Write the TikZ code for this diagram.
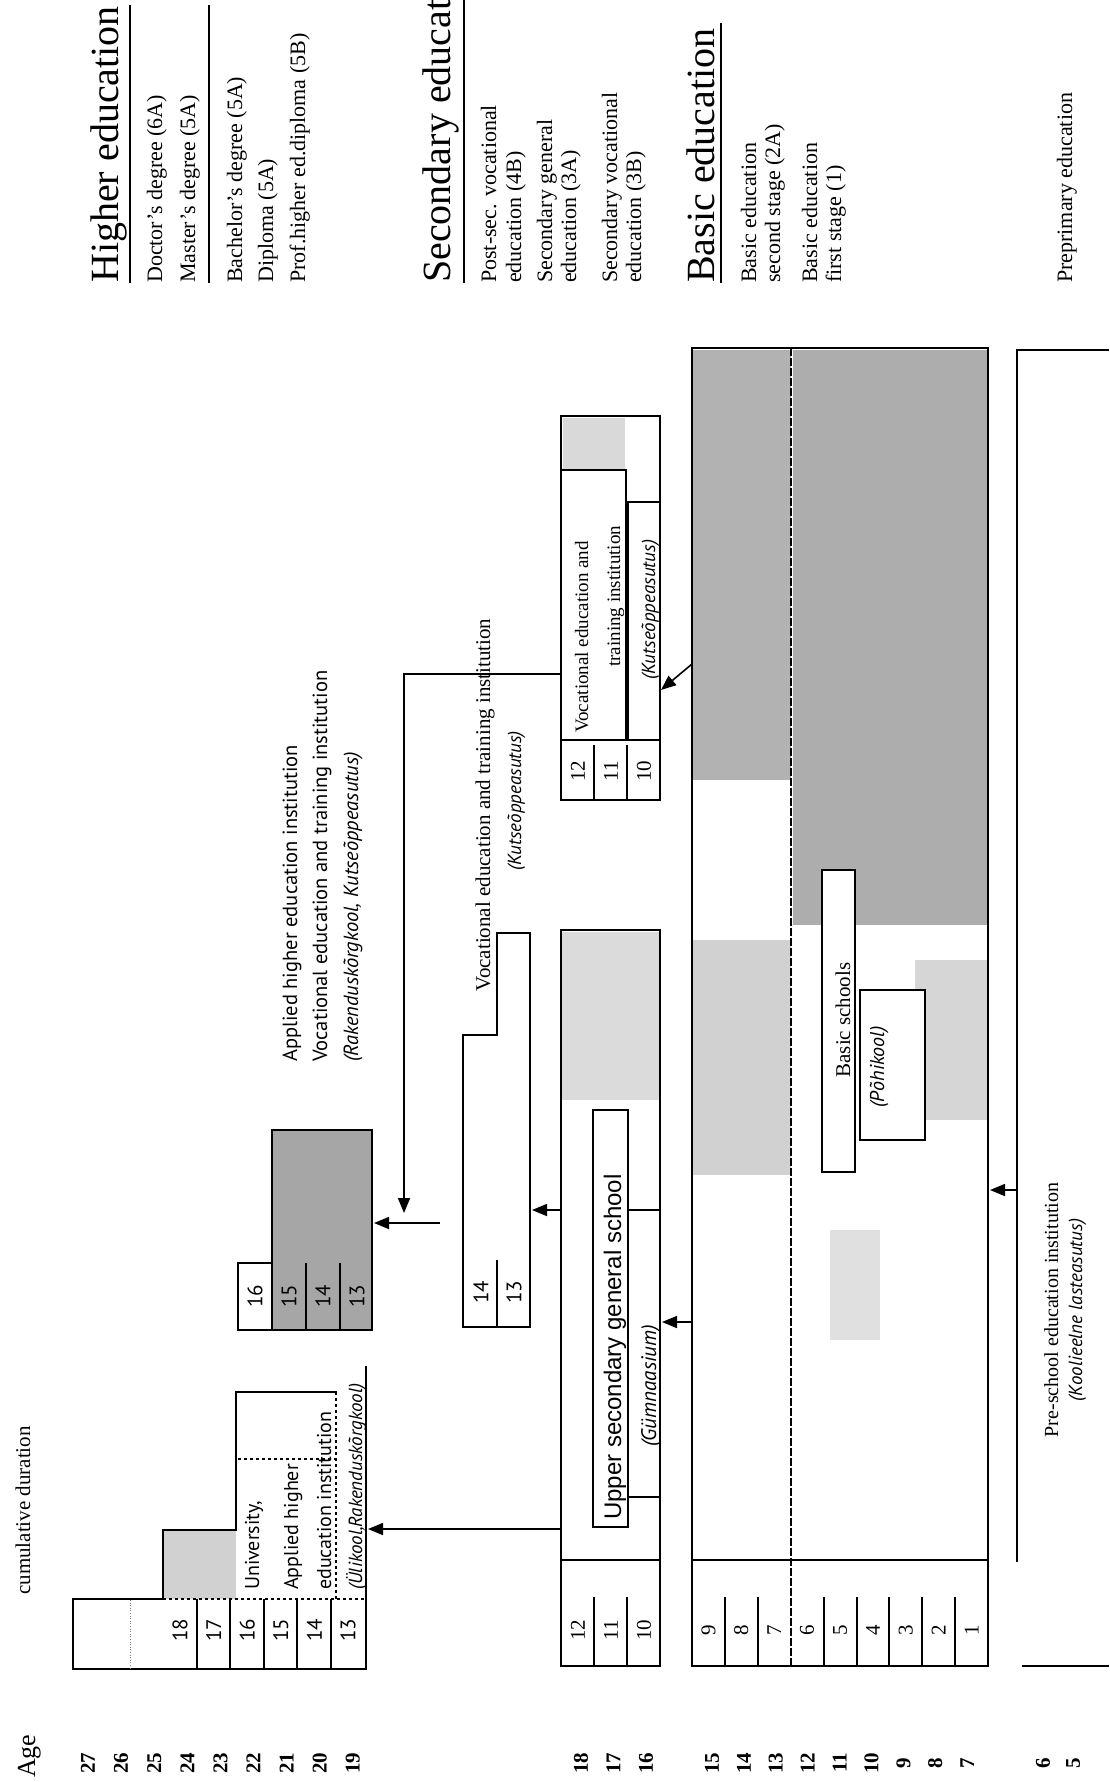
\documentclass[tikz,border=0pt]{standalone}
\usepackage{fontspec}
\setmainfont{Liberation Serif}
\newfontfamily\gillfont{PT Sans}
\newfontfamily\arialfont{Liberation Sans}
\usetikzlibrary{arrows.meta}

\begin{document}
\begin{tikzpicture}[x=1pt, y=-1pt,
    frame/.style={draw, line width=2.4pt},
    thinline/.style={draw, line width=1.1pt},
    celldiv/.style={draw, line width=2pt},
    arrow/.style={-{Triangle[length=15pt, width=12pt]}, line width=1.6pt},
    up/.style={rotate=90, inner sep=0pt, anchor=base west},
    upmid/.style={rotate=90, inner sep=0pt, anchor=base},
    serif/.style={font=\fontsize{#1}{#1}\selectfont},
    gill/.style={font=\gillfont\fontsize{#1}{#1}\selectfont},
    gillit/.style={font=\gillfont\itshape\fontsize{#1}{#1}\selectfont},
    heading/.style={up, serif=40},
    legend/.style={up, serif=22},
    num/.style={rotate=90, inner sep=0pt, serif=21},
    gnum/.style={rotate=90, inner sep=0pt, gill=21},
    age/.style={rotate=90, inner sep=0pt, font=\fontsize{21}{24}\selectfont\bfseries}
]
\fill[white] (0,0) rectangle (1109,1782);
\useasboundingbox (0,0) rectangle (1109,1782);

% legend
\node[heading] (hHigher) at (118,283) {Higher education};
\draw[line width=2pt] (130,283) -- (130,5);
\node[legend] (lDoctor) at (162,283) {Doctor's degree (6A)};
\node[legend] (lMaster) at (195,283) {Master's degree (5A)};
\draw[line width=2pt] (209,283) -- (209,5);
\node[legend] (lBachelor) at (242,283) {Bachelor's degree (5A)};
\node[legend] (lDiploma) at (273,283) {Diploma (5A)};
\node[legend] (lProf) at (305,283) {Prof.higher ed.diploma (5B)};

\node[heading] (hSecondary) at (450,283) {Secondary education};
\draw[line width=2pt] (464,283) -- (464,0);
\node[legend] (lPostA) at (496,283) {Post-sec. vocational};
\node[legend] (lPostB) at (521,283) {education (4B)};
\node[legend] (lSecGenA) at (552,283) {Secondary general};
\node[legend] (lSecGenB) at (576,283) {education (3A)};
\node[legend] (lSecVocA) at (617,283) {Secondary vocational};
\node[legend] (lSecVocB) at (641,283) {education (3B)};

\node[heading] (hBasic) at (714,283) {Basic education};
\draw[line width=2pt] (721,283) -- (721,23);
\node[legend] (lBasic2A) at (756,283) {Basic education};
\node[legend] (lBasic2B) at (780,283) {second stage (2A)};
\node[legend] (lBasic1A) at (817,283) {Basic education};
\node[legend] (lBasic1B) at (841,283) {first stage (1)};
\node[legend] (lPre) at (1072,283) {Preprimary education};

% age scale
\node[up, serif=26] (ageTitle) at (35,1778) {Age};
\node[up, serif=21] (cumTitle) at (30,1595) {cumulative duration};
\foreach \a [count=\k from 0] in {27,26,...,19}
  \node[age] (age\a) at ({88+33.1*\k},1763) {\a};
\foreach \a [count=\k from 0] in {18,17,16}
  \node[age] (age\a) at ({581+32.5*\k},1763) {\a};
\foreach \a [count=\k from 0] in {15,14,...,7}
  \node[age] (age\a) at ({712+31.9*\k},1763) {\a};
\node[age] (age6) at (1043,1763) {6};
\node[age] (age5) at (1073,1763) {5};

% university
\fill[black!18] (163,1530) rectangle (236,1599);
\draw[frame] (366,1366) -- (366,1669) -- (73,1669) -- (73,1599) -- (163,1599)
  -- (163,1530) -- (236,1530) -- (236,1392) -- (337,1392);
\draw[thinline, dashed] (163,1599) -- (366,1599);
\draw[thinline, dashed] (336,1392) -- (336,1599);
\draw[thinline, dashed] (238,1459) -- (336,1459);
\draw[line width=0.6pt, black!50, dotted] (130,1600) -- (130,1668);
\foreach \x in {197,230,264,297,331}
  \draw[celldiv] (\x,1599) -- (\x,1669);
\foreach \n [count=\k from 0] in {18,17,...,13}
  \node[gnum] (u\n) at ({180+33.6*\k},1630) {\n};
\node[up, gill=20] (uniA) at (259,1590) {University,};
\node[up, gill=20] (uniB) at (298,1590) {Applied higher};
\node[up, gill=20] (uniC) at (331,1590) {education institution};
\node[up, gillit=19] (uniD) at (362,1590) {(Ülikool,Rakenduskõrgkool)};

% applied higher / vocational after secondary
\draw[frame] (238,1263) rectangle (272,1330);
\draw[frame, fill=black!35] (272,1130) rectangle (372,1330);
\foreach \x in {306,340}
  \draw[celldiv] (\x,1263) -- (\x,1330);
\node[gnum] (ah16) at (255,1296) {16};
\foreach \n [count=\k from 0] in {15,14,13}
  \node[gnum] (ah\n) at ({289+34*\k},1296) {\n};
\node[up, gill=20.5] (ahA) at (297,1062) {Applied higher education institution};
\node[up, gill=20.5] (ahB) at (327,1062) {Vocational education and training institution};
\node[up, gillit=20.5] (ahC) at (358,1062) {(Rakenduskõrgkool, Kutseõppeasutus)};

% post-secondary vocational
\draw[frame] (463,1327) -- (463,1035) -- (497,1035) -- (497,933) -- (530,933) -- (530,1327) -- cycle;
\draw[celldiv] (497,1260) -- (497,1327);
\node[gnum] (ps14) at (481,1292) {14};
\node[gnum] (ps13) at (514,1292) {13};
\node[upmid, serif=21] (psA) at (490,805) {Vocational education and training institution};
\node[upmid, gillit=19] (psB) at (521,801) {(Kutseõppeasutus)};

% secondary vocational
\fill[black!15] (563,418) rectangle (625,470);
\draw[frame] (561,416) rectangle (660,800);
\draw[thinline] (561,470) -- (626,470) -- (626,740);
\draw[thinline] (628,740) -- (628,502) -- (660,502);
\draw[thinline] (561,740) -- (660,740);
\foreach \x in {594,627}
  \draw[celldiv] (\x,745) -- (\x,800);
\foreach \n [count=\k from 0] in {12,11,10}
  \node[num] (sv\n) at ({578+33*\k},771) {\n};
\node[up, serif=19] (svA) at (588,733) {Vocational education and};
\node[up, serif=19] (svB) at (620,667) {training institution};
\node[up, gillit=19] (svC) at (655,680) {(Kutseõppeasutus)};

% upper secondary
\fill[black!14] (562,932) rectangle (659,1100);
\draw[frame] (561,930) rectangle (660,1666);
\draw[thinline] (561,1560) -- (660,1560);
\foreach \x in {594,627}
  \draw[celldiv] (\x,1597) -- (\x,1666);
\foreach \n [count=\k from 0] in {12,11,10}
  \node[num] (us\n) at ({578+33*\k},1630) {\n};
\draw[thinline, fill=white] (593,1110) rectangle (628,1527);
\draw[thinline, fill=white] (628,1210) rectangle (660,1497);
\node[up, font=\arialfont\fontsize{24}{24}\selectfont] (usA) at (621,1520) {Upper secondary general school};
\node[up, gillit=21] (usB) at (656,1447) {(Gümnaasium)};

% basic school
\fill[black!30] (693,350) rectangle (791,780);
\fill[black!32] (793,350) rectangle (987,925);
\fill[black!18] (693,940) rectangle (791,1175);
\fill[black!16] (915,960) rectangle (987,1120);
\fill[black!12] (830,1230) rectangle (880,1340);
\draw[frame] (692,348) rectangle (988,1666);
\draw[thinline] (692,1560) -- (988,1560);
\draw[line width=2.4pt, dash pattern=on 8pt off 2pt] (791,348) -- (791,1666);
\foreach \k in {1,2,4,5,6,7,8}
  \draw[celldiv] ({692+32.9*\k},1597) -- ({692+32.9*\k},1666);
\foreach \n [count=\k from 0] in {9,8,...,1}
  \node[num] (bs\n) at ({708.4+32.9*\k},1630) {\n};
\draw[thinline, fill=white] (822,870) rectangle (855,1172);
\node[upmid, serif=21] (bsA) at (850,1020) {Basic schools};
\draw[thinline, fill=white] (860,990) rectangle (925,1140);
\node[upmid, gillit=20] (bsB) at (884,1067) {(Põhikool)};

% pre-school
\draw[frame] (1109,350) -- (1017,350) -- (1017,1562);
\draw[frame] (1022,1666) -- (1109,1666);
\node[upmid, serif=20] (prA) at (1058,1310) {Pre-school education institution};
\node[upmid, gillit=19] (prB) at (1082,1310) {(Koolieelne lasteasutus)};

% connectors
\coordinate (usToUni) at (561,1529);
\coordinate (uniIn) at (368,1529);
\coordinate (usToPs) at (561,1210);
\coordinate (psIn) at (532,1210);
\coordinate (bsToUs) at (692,1322);
\coordinate (usIn) at (662,1322);
\coordinate (secEnd) at (440,1223);
\coordinate (ahIn) at (374,1223);
\coordinate (svOut) at (561,674);
\coordinate (svBend) at (404,674);
\coordinate (svDown) at (404,1213);
\coordinate (bsToSv) at (692,664);
\coordinate (svIn) at (661,690);
\coordinate (prToBs) at (1017,1190);
\coordinate (bsIn) at (990,1190);
\draw[arrow] (usToUni) -- (uniIn);
\draw[arrow] (usToPs) -- (psIn);
\draw[arrow] (bsToUs) -- (usIn);
\draw[arrow] (secEnd) -- (ahIn);
\draw[arrow] (svOut) -- (svBend) -- (svDown);
\draw[arrow] (bsToSv) -- (svIn);
\draw[arrow] (prToBs) -- (bsIn);
\end{tikzpicture}
\end{document}
